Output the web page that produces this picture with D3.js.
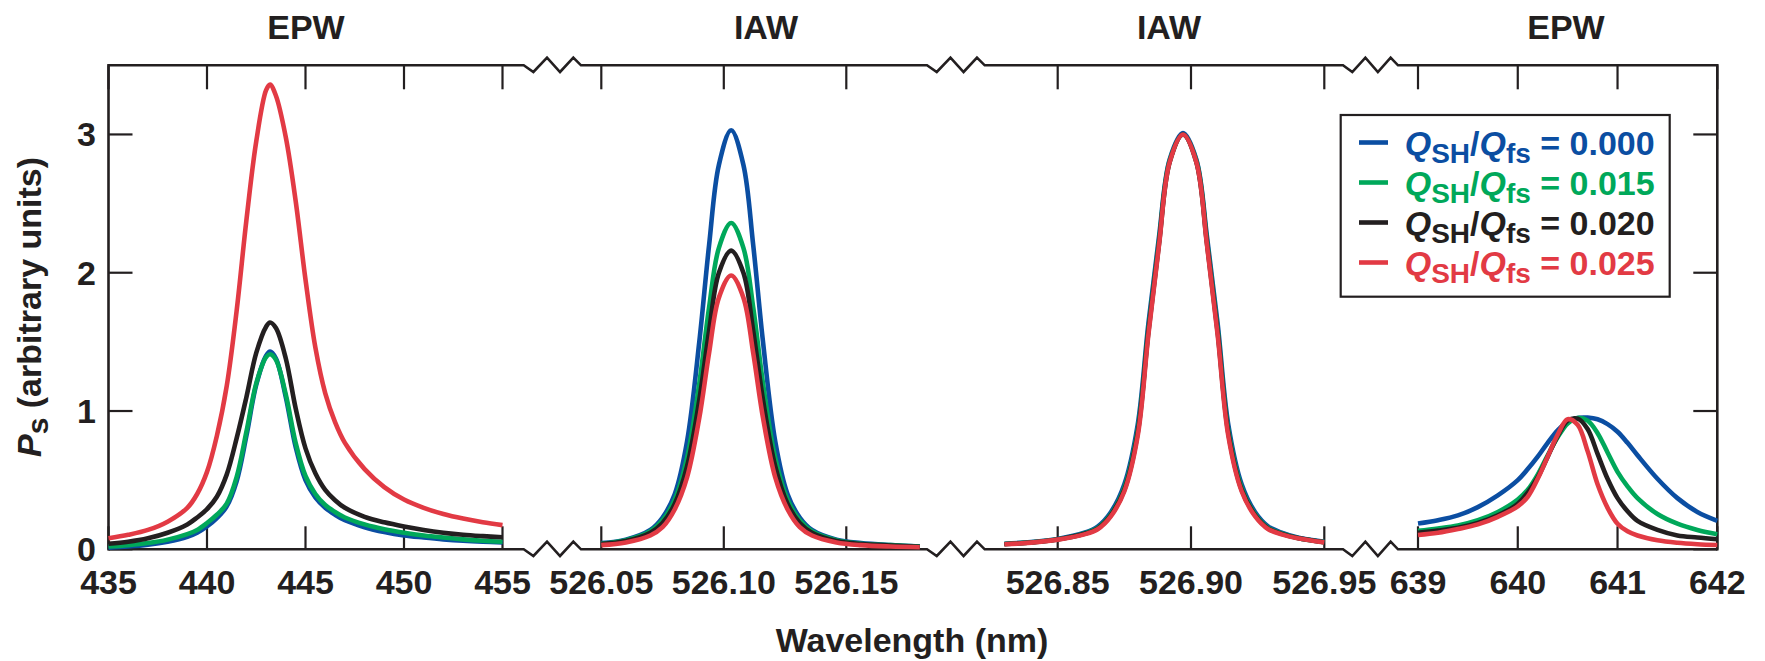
<!DOCTYPE html>
<html><head><meta charset="utf-8">
<script src="https://cdn.jsdelivr.net/npm/d3@7"></script>
<style>
html,body{margin:0;padding:0;background:#fff;}
svg{display:block;font-family:"Liberation Sans",Arial,Helvetica,sans-serif;font-weight:bold;}
</style>
</head><body>
<svg id="chart" width="1765" height="661"></svg>
<script>
// ---------------- DATA ----------------
const seriesLabels = ["0.000", "0.015", "0.020", "0.025"];
const panelTitles = ["EPW", "IAW", "IAW", "EPW"];
const yTicks = [0, 1, 2, 3];
const p1Ticks = [435, 440, 445, 450, 455];
const p2Ticks = [526.05, 526.10, 526.15];
const p3Ticks = [526.85, 526.90, 526.95];
const p4Ticks = [639, 640, 641, 642];

// Panel 1: EPW (435-455 nm)
const p1X = [435, 436, 437, 438, 439, 439.5, 440, 440.5, 441, 441.5, 442, 442.5, 443, 443.2, 443.5, 444, 444.5, 445, 445.5, 446, 446.5, 447, 448, 449, 450, 451, 452, 453, 454, 455];
const p1Blue  = [0.012, 0.02, 0.033, 0.055, 0.09, 0.12, 0.165, 0.225, 0.31, 0.49, 0.82, 1.19, 1.40, 1.43, 1.38, 1.10, 0.74, 0.50, 0.375, 0.30, 0.25, 0.21, 0.16, 0.125, 0.10, 0.085, 0.072, 0.062, 0.055, 0.05];
const p1Green = [0.02, 0.03, 0.045, 0.07, 0.11, 0.14, 0.19, 0.25, 0.33, 0.52, 0.85, 1.20, 1.39, 1.41, 1.37, 1.12, 0.77, 0.53, 0.40, 0.32, 0.27, 0.23, 0.18, 0.145, 0.12, 0.10, 0.085, 0.072, 0.062, 0.055];
const p1Black = [0.04, 0.055, 0.08, 0.12, 0.18, 0.23, 0.29, 0.38, 0.54, 0.80, 1.10, 1.42, 1.61, 1.64, 1.60, 1.38, 1.02, 0.73, 0.55, 0.43, 0.355, 0.30, 0.235, 0.195, 0.165, 0.14, 0.12, 0.105, 0.095, 0.087];
const p1Red   = [0.08, 0.105, 0.14, 0.20, 0.30, 0.40, 0.56, 0.82, 1.18, 1.72, 2.38, 2.95, 3.32, 3.36, 3.28, 2.98, 2.52, 1.95, 1.46, 1.13, 0.92, 0.77, 0.58, 0.45, 0.36, 0.30, 0.255, 0.222, 0.196, 0.175];

// Panel 2: IAW (526.05-526.18 nm)
const p2X = [526.050, 526.060, 526.070, 526.075, 526.080, 526.085, 526.090, 526.094, 526.098, 526.103, 526.108, 526.112, 526.116, 526.121, 526.126, 526.131, 526.136, 526.146, 526.156, 526.168, 526.180];
const p2Blue  = [0.045, 0.07, 0.14, 0.23, 0.40, 0.78, 1.50, 2.20, 2.78, 3.03, 2.78, 2.20, 1.50, 0.78, 0.40, 0.23, 0.14, 0.07, 0.045, 0.03, 0.02];
const p2Green = [0.04, 0.065, 0.13, 0.21, 0.36, 0.66, 1.20, 1.75, 2.18, 2.36, 2.18, 1.75, 1.20, 0.66, 0.36, 0.21, 0.13, 0.065, 0.04, 0.03, 0.02];
const p2Black = [0.038, 0.06, 0.12, 0.19, 0.33, 0.60, 1.08, 1.58, 2.00, 2.16, 2.00, 1.58, 1.08, 0.60, 0.33, 0.19, 0.12, 0.06, 0.038, 0.028, 0.018];
const p2Red   = [0.03, 0.05, 0.10, 0.16, 0.29, 0.52, 0.95, 1.42, 1.82, 1.98, 1.82, 1.42, 0.95, 0.52, 0.29, 0.16, 0.10, 0.05, 0.03, 0.02, 0.015];

// Panel 3: IAW (526.83-526.95 nm)
const p3X = [526.830, 526.840, 526.850, 526.860, 526.865, 526.870, 526.875, 526.880, 526.884, 526.888, 526.892, 526.897, 526.902, 526.906, 526.910, 526.914, 526.919, 526.924, 526.929, 526.934, 526.940, 526.950];
const p3Blue  = [0.04, 0.052, 0.075, 0.12, 0.165, 0.27, 0.47, 0.90, 1.63, 2.26, 2.82, 3.01, 2.82, 2.26, 1.63, 0.90, 0.47, 0.27, 0.165, 0.12, 0.085, 0.055];
const p3Green = [0.038, 0.05, 0.072, 0.115, 0.155, 0.255, 0.445, 0.86, 1.59, 2.23, 2.81, 3.00, 2.81, 2.23, 1.59, 0.86, 0.445, 0.255, 0.155, 0.115, 0.082, 0.052];
const p3Black = [0.037, 0.049, 0.071, 0.112, 0.15, 0.248, 0.43, 0.84, 1.57, 2.21, 2.80, 3.00, 2.80, 2.21, 1.57, 0.84, 0.43, 0.248, 0.15, 0.112, 0.081, 0.051];
const p3Red   = [0.036, 0.048, 0.070, 0.108, 0.145, 0.24, 0.42, 0.82, 1.55, 2.20, 2.80, 3.00, 2.80, 2.20, 1.55, 0.82, 0.42, 0.24, 0.145, 0.108, 0.08, 0.05];

// Panel 4: EPW (639-642 nm)
const p4X = [639.0, 639.2, 639.4, 639.6, 639.8, 640.0, 640.1, 640.2, 640.3, 640.4, 640.5, 640.6, 640.7, 640.8, 640.9, 641.0, 641.1, 641.2, 641.4, 641.6, 641.8, 642.0];
const p4Blue  = [0.186, 0.21, 0.245, 0.305, 0.39, 0.50, 0.58, 0.67, 0.77, 0.86, 0.925, 0.95, 0.952, 0.94, 0.905, 0.85, 0.77, 0.68, 0.51, 0.37, 0.27, 0.206];
const p4Green = [0.133, 0.15, 0.172, 0.21, 0.27, 0.36, 0.43, 0.54, 0.68, 0.81, 0.91, 0.95, 0.93, 0.84, 0.70, 0.56, 0.455, 0.37, 0.255, 0.185, 0.14, 0.109];
const p4Black = [0.12, 0.135, 0.155, 0.19, 0.245, 0.33, 0.41, 0.52, 0.67, 0.82, 0.93, 0.945, 0.87, 0.69, 0.51, 0.37, 0.275, 0.205, 0.14, 0.10, 0.085, 0.073];
const p4Red   = [0.104, 0.12, 0.147, 0.18, 0.235, 0.31, 0.38, 0.51, 0.67, 0.83, 0.94, 0.90, 0.71, 0.47, 0.30, 0.185, 0.13, 0.10, 0.065, 0.047, 0.037, 0.031];

// ---------------- STYLE / LAYOUT ----------------
const colors = ["#0b4ea2", "#00a85a", "#231f20", "#e23a44"];
const ink = "#231f20";
const FONT = 34;

const svg = d3.select("#chart");
const yBottom = 549.3, yTop = 65.3;
const xLeft = 108.5, xRight = 1717.3;
const y = d3.scaleLinear().domain([0, 3.5]).range([yBottom, yTop]);

const panels = [
  {x: p1X, s: [p1Blue, p1Green, p1Black, p1Red], dom: [435, 455], rng: [108.5, 502.5], ticks: p1Ticks, fmt: d3.format("d"), titleX: 306},
  {x: p2X, s: [p2Blue, p2Green, p2Black, p2Red], dom: [526.05, 526.15], rng: [601.3, 846.3], ticks: p2Ticks, fmt: d3.format(".2f"), titleX: 766},
  {x: p3X, s: [p3Blue, p3Green, p3Black, p3Red], dom: [526.85, 526.95], rng: [1057.7, 1324.3], ticks: p3Ticks, fmt: d3.format(".2f"), titleX: 1169},
  {x: p4X, s: [p4Blue, p4Green, p4Black, p4Red], dom: [639, 642], rng: [1418, 1717.3], ticks: p4Ticks, fmt: d3.format("d"), titleX: 1566}
];
panels.forEach(p => { p.scale = d3.scaleLinear().domain(p.dom).range(p.rng); });

// axis break positions (pixel layout)
const breaks = [[523.7, 581], [927, 984.7], [1343, 1398]];
const zig = [[0.169, 6.7], [0.407, -7.7], [0.634, 6.7], [0.866, -7.7], [1, 0]];
function hAxisPath(yy) {
  let d = `M${xLeft},${yy}`;
  breaks.forEach(([a, b]) => {
    d += `L${a},${yy}`;
    zig.forEach(([f, dy]) => { d += `L${a + f * (b - a)},${yy + dy}`; });
  });
  d += `L${xRight},${yy}`;
  return d;
}

const axes = svg.append("g").attr("fill", "none").attr("stroke", ink);
axes.append("path").attr("d", hAxisPath(yBottom)).attr("stroke-width", 2.6).attr("stroke-linejoin", "miter");
axes.append("path").attr("d", hAxisPath(yTop)).attr("stroke-width", 2.6).attr("stroke-linejoin", "miter");
axes.append("line").attr("x1", xLeft).attr("x2", xLeft).attr("y1", yTop - 1.3).attr("y2", yBottom + 1.3).attr("stroke-width", 2.6);
axes.append("line").attr("x1", xRight).attr("x2", xRight).attr("y1", yTop - 1.3).attr("y2", yBottom + 1.3).attr("stroke-width", 2.6);

// x ticks & labels
panels.forEach((p, pi) => {
  p.ticks.forEach(t => {
    const xx = p.scale(t);
    axes.append("line").attr("x1", xx).attr("x2", xx).attr("y1", yBottom).attr("y2", yBottom - 23).attr("stroke-width", 2.2);
    axes.append("line").attr("x1", xx).attr("x2", xx).attr("y1", yTop).attr("y2", yTop + 24).attr("stroke-width", 2.2);
    svg.append("text").attr("x", xx).attr("y", 594).attr("text-anchor", "middle")
      .attr("font-size", FONT).attr("fill", ink).text(p.fmt(t));
  });
  svg.append("text").attr("x", p.titleX).attr("y", 39).attr("text-anchor", "middle")
    .attr("font-size", FONT).attr("fill", ink).text(panelTitles[pi]);
});

// y ticks & labels
yTicks.forEach(t => {
  const yy = y(t);
  axes.append("line").attr("x1", xLeft).attr("x2", xLeft + 24).attr("y1", yy).attr("y2", yy).attr("stroke-width", 2.2);
  axes.append("line").attr("x1", xRight).attr("x2", xRight - 24).attr("y1", yy).attr("y2", yy).attr("stroke-width", 2.2);
  svg.append("text").attr("x", 96).attr("y", yy + 12).attr("text-anchor", "end")
    .attr("font-size", FONT).attr("fill", ink).text(d3.format("d")(t));
});

// curves
const curves = svg.append("g").attr("fill", "none").attr("stroke-width", 4.6)
  .attr("stroke-linejoin", "round").attr("stroke-linecap", "butt");
panels.forEach(p => {
  p.s.forEach((vals, si) => {
    const line = d3.line().x((d, i) => p.scale(p.x[i])).y(d => y(d)).curve(d3.curveCatmullRom.alpha(0.5));
    curves.append("path").attr("d", line(vals)).attr("stroke", colors[si]);
  });
});

// axis titles
const yl = svg.append("text").attr("transform", "translate(41,307) rotate(-90)")
  .attr("text-anchor", "middle").attr("font-size", FONT).attr("fill", ink);
yl.append("tspan").attr("font-style", "italic").text("P");
yl.append("tspan").attr("font-size", 30).attr("dy", 7).text("s");
yl.append("tspan").attr("dy", -7).text(" (arbitrary units)");

svg.append("text").attr("x", 912).attr("y", 652).attr("text-anchor", "middle")
  .attr("font-size", FONT).attr("fill", ink).text("Wavelength (nm)");

// legend
const lg = svg.append("g");
lg.append("rect").attr("x", 1340.7).attr("y", 115).attr("width", 329).attr("height", 181.7)
  .attr("fill", "#fff").attr("stroke", ink).attr("stroke-width", 2.2);
seriesLabels.forEach((lab, i) => {
  const ly = 142.5 + i * 40;
  lg.append("line").attr("x1", 1359).attr("x2", 1388).attr("y1", ly).attr("y2", ly)
    .attr("stroke", colors[i]).attr("stroke-width", 4.6);
  const t = lg.append("text").attr("x", 1404.7).attr("y", ly + 12.5).attr("font-size", FONT).attr("fill", colors[i]);
  t.append("tspan").attr("font-style", "italic").text("Q");
  t.append("tspan").attr("font-size", 28).attr("dy", 8).text("SH");
  t.append("tspan").attr("dy", -8).text("/");
  t.append("tspan").attr("font-style", "italic").text("Q");
  t.append("tspan").attr("font-size", 28).attr("dy", 8).text("fs");
  t.append("tspan").attr("dy", -8).text(" = " + lab);
});
</script>
</body></html>
